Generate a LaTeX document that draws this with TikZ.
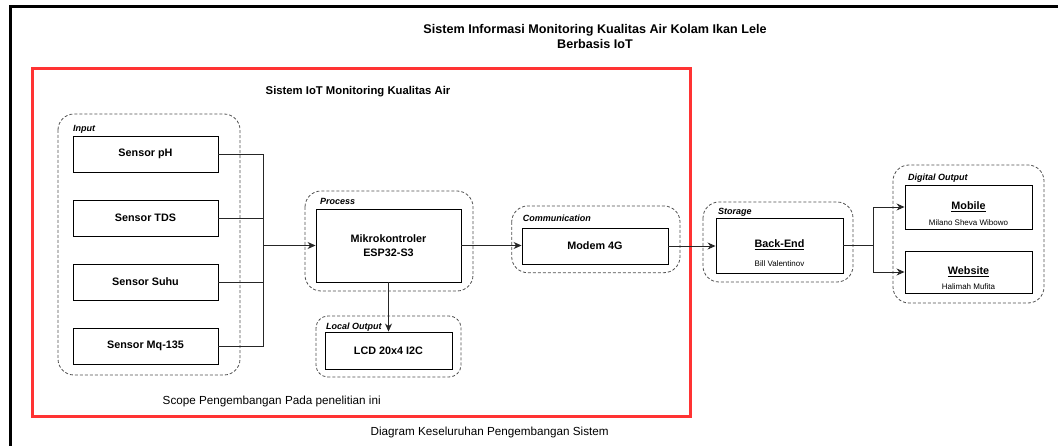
\documentclass[tikz,border=0pt]{standalone}
\usepackage{fontspec}
\setmainfont{Liberation Sans}
\usetikzlibrary{arrows.meta}
\definecolor{scopered}{RGB}{255,51,51}
\definecolor{grpgray}{RGB}{80,80,80}
\begin{document}
\begin{tikzpicture}[x=1pt,y=-1pt,
  box/.style={draw=black,line width=0.9pt,inner sep=0pt,fill=white},
  grp/.style={draw=grpgray,line width=0.8pt,dash pattern=on 3pt off 2pt,rounded corners=16pt},
  grplabel/.style={anchor=west,inner sep=0pt,font=\fontsize{9}{10}\selectfont\bfseries\itshape},
  bold/.style={font=\fontsize{10.8}{14}\selectfont\bfseries,align=center},
  small/.style={font=\fontsize{8}{9}\selectfont,inner sep=0pt},
  plain/.style={font=\fontsize{11.7}{14}\selectfont},
  conn/.style={draw=black!85,line width=0.9pt},
  arr/.style={conn,-{Stealth[length=8pt,width=7pt]}}
]
\useasboundingbox (0,0) rectangle (1058,446);
% outer frame (left and top edges)
\draw[line width=3pt,black] (10,446) -- (10,7) -- (1058,7);
% title
\node[font=\fontsize{12.6}{15}\selectfont\bfseries,align=center] (title) at (595,36.5)
  {Sistem Informasi Monitoring Kualitas Air Kolam Ikan Lele\\Berbasis IoT};
% scope frame
\draw[scopered,line width=3pt] (32,69) rectangle (690,416);
\node[font=\fontsize{11.3}{13}\selectfont\bfseries] (scopetitle) at (358,92) {Sistem IoT Monitoring Kualitas Air};
\node[plain] (scopenote) at (271.7,401) {Scope Pengembangan Pada penelitian ini};
\node[plain] (caption) at (489.7,432) {Diagram Keseluruhan Pengembangan Sistem};

% groups
\draw[grp] (58,114) rectangle (240,375);
\node[grplabel] (lblin) at (73,129) {Input};
\draw[grp] (305,191) rectangle (473,291);
\node[grplabel] (lblproc) at (320,201) {Process};
\draw[grp] (511.7,206) rectangle (680,272.7);
\node[grplabel] (lblcomm) at (522.7,218) {Communication};
\draw[grp] (703,202) rectangle (853,282);
\node[grplabel] (lblstor) at (718,212) {Storage};
\draw[grp] (893,165) rectangle (1044,303);
\node[grplabel] (lbldig) at (908,178) {Digital Output};
\draw[grp,rounded corners=12pt] (316,316) rectangle (461,377);
\node[grplabel] (lbllocal) at (326,327) {Local Output};

% boxes
\node[box,bold,minimum width=145pt,minimum height=36pt] (ph) at (145.5,154) {Sensor pH};
\node[box,bold,minimum width=145pt,minimum height=36pt] (tds) at (145.5,218) {Sensor TDS};
\node[box,bold,minimum width=145pt,minimum height=36pt] (suhu) at (145.5,282) {Sensor Suhu};
\node[box,bold,minimum width=145pt,minimum height=36pt] (mq) at (145.5,346) {Sensor Mq-135};
\node[box,bold,minimum width=145pt,minimum height=73pt] (mcu) at (388.5,245.5) {Mikrokontroler\\ESP32-S3};
\node[box,bold,minimum width=146pt,minimum height=36pt] (modem) at (595,246) {Modem 4G};
\node[box,minimum width=127pt,minimum height=55pt] (backend) at (779.5,245.5) {};
\node[bold,inner sep=0pt] (betxt) at (779.5,245) {\underline{Back-End}};
\node[small] (bename) at (779.5,264) {Bill Valentinov};
\node[box,minimum width=127pt,minimum height=44pt] (mobile) at (968.5,207) {};
\node[bold,inner sep=0pt] (mobtxt) at (968.5,207) {\underline{Mobile}};
\node[small] (mobname) at (968.5,223) {Milano Sheva Wibowo};
\node[box,minimum width=127pt,minimum height=42pt] (website) at (968.5,272) {};
\node[bold,inner sep=0pt] (webtxt) at (968.5,272) {\underline{Website}};
\node[small] (webname) at (968.5,287) {Halimah Mufita};
\node[box,bold,minimum width=127pt,minimum height=37pt] (lcd) at (388.5,350.5) {LCD 20x4 I2C};

% connectors
\coordinate (bus) at (263,245.5);
\draw[conn] (ph.east) -| (bus);
\draw[conn] (tds.east) -| (bus);
\draw[conn] (suhu.east) -| (bus);
\draw[conn] (mq.east) -| (bus);
\draw[arr] (bus) -- (mcu.west);
\draw[arr] (mcu.east) -- (mcu.east -| modem.west);
\draw[arr] (modem.east) -- (modem.east -| backend.west);
\coordinate (split) at (873,245.5);
\draw[conn] (backend.east) -- (split);
\draw[arr] (split) |- (mobile.west);
\draw[arr] (split) |- (website.west);
\draw[arr] (mcu.south) -- (lcd.north);
\end{tikzpicture}
\end{document}
